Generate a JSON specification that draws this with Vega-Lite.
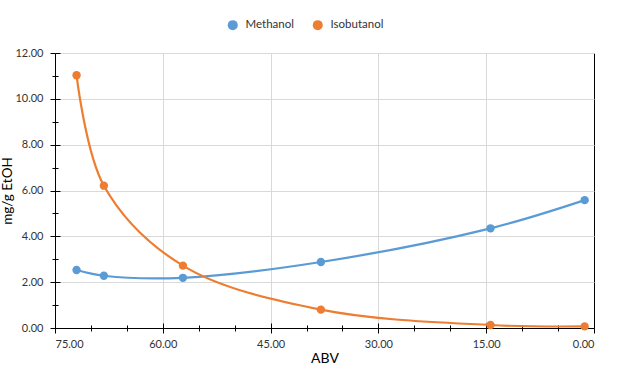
{
  "$schema": "https://vega.github.io/schema/vega-lite/v6.json",
  "width": 539,
  "height": 275,
  "autosize": "none",
  "padding": {"left": 55, "top": 53, "right": 24, "bottom": 44},
  "background": "white",
  "config": {
    "view": {"stroke": null},
    "font": "Lato",
    "axis": {"labelFont": "Lato", "titleFont": "Lato", "labelColor": "#333333", "titleColor": "#000000", "domainColor": "#000000", "tickColor": "#000000", "gridColor": "#d9d9d9"}
  },
  "data": {
    "values": [
      {"abv": 72.0, "series": "Methanol", "value": 2.53},
      {"abv": 68.2, "series": "Methanol", "value": 2.28},
      {"abv": 57.2, "series": "Methanol", "value": 2.19},
      {"abv": 38.0, "series": "Methanol", "value": 2.88},
      {"abv": 14.4, "series": "Methanol", "value": 4.35},
      {"abv": 1.3, "series": "Methanol", "value": 5.58},
      {"abv": 72.0, "series": "Isobutanol", "value": 11.03},
      {"abv": 68.2, "series": "Isobutanol", "value": 6.21},
      {"abv": 57.2, "series": "Isobutanol", "value": 2.72},
      {"abv": 38.0, "series": "Isobutanol", "value": 0.80},
      {"abv": 14.4, "series": "Isobutanol", "value": 0.13},
      {"abv": 1.3, "series": "Isobutanol", "value": 0.07}
    ]
  },
  "layer": [
    {
      "mark": {"type": "line", "interpolate": "catmull-rom", "strokeWidth": 2.2},
      "encoding": {
        "x": {
          "field": "abv", "type": "quantitative",
          "scale": {"domain": [0, 75], "reverse": true, "nice": false},
          "axis": {
            "orient": "bottom",
            "values": [0,5,10,15,20,25,30,35,40,45,50,55,60,65,70,75],
            "labelExpr": "datum.value % 15 === 0 ? format(datum.value, '.2f') : ''",
            "labelFontSize": 11,
            "labelPadding": 5,
            "tickSize": {"condition": {"test": "datum.value % 15 === 0", "value": 5}, "value": 3},
            "gridOpacity": {"condition": {"test": "datum.value % 15 === 0", "value": 1}, "value": 0},
            "gridColor": {"condition": {"test": "datum.value === 0", "value": "#000000"}, "value": "#d9d9d9"},
            "grid": true,
            "title": "ABV",
            "titleFontSize": 14,
            "titleFontWeight": "normal",
            "titlePadding": 2
          }
        },
        "y": {
          "field": "value", "type": "quantitative",
          "scale": {"domain": [0, 12], "nice": false},
          "axis": {
            "orient": "left",
            "values": [0,1,2,3,4,5,6,7,8,9,10,11,12],
            "labelExpr": "datum.value % 2 === 0 ? format(datum.value, '.2f') : ''",
            "labelFontSize": 11,
            "labelPadding": 7,
            "tickSize": {"condition": {"test": "datum.value % 2 === 0", "value": 5}, "value": 3},
            "gridOpacity": {"condition": {"test": "datum.value % 2 === 0", "value": 1}, "value": 0},
            "grid": true,
            "title": "mg/g EtOH",
            "titleFontSize": 13.5,
            "titleFontWeight": "normal",
            "titleX": -41
          }
        },
        "color": {
          "field": "series", "type": "nominal",
          "scale": {"domain": ["Methanol", "Isobutanol"], "range": ["#5B9BD5", "#ED7D31"]},
          "legend": {
            "orient": "none", "legendX": 172, "legendY": -34,
            "direction": "horizontal", "title": null,
            "symbolType": "circle", "symbolSize": 100, "symbolStrokeWidth": 0,
            "labelFontSize": 11.5, "labelFont": "Lato", "labelColor": "#333333",
            "columnPadding": 18, "labelOffset": 7
          }
        },
        "detail": {"field": "series"}
      }
    },
    {
      "mark": {"type": "point", "filled": true, "size": 70, "opacity": 1},
      "encoding": {
        "x": {
          "field": "abv", "type": "quantitative",
          "scale": {"domain": [0, 75], "reverse": true, "nice": false},
          "axis": {
            "orient": "bottom",
            "values": [0,5,10,15,20,25,30,35,40,45,50,55,60,65,70,75],
            "labels": false, "domain": false, "grid": false, "title": null,
            "tickSize": {"condition": {"test": "datum.value % 15 === 0", "value": -5}, "value": -3}
          }
        },
        "y": {
          "field": "value", "type": "quantitative",
          "scale": {"domain": [0, 12], "nice": false},
          "axis": {
            "orient": "left",
            "values": [0,1,2,3,4,5,6,7,8,9,10,11,12],
            "labels": false, "domain": false, "grid": false, "title": null,
            "tickSize": {"condition": {"test": "datum.value % 2 === 0", "value": -5}, "value": -3}
          }
        },
        "color": {"field": "series", "type": "nominal", "scale": {"domain": ["Methanol", "Isobutanol"], "range": ["#5B9BD5", "#ED7D31"]}}
      }
    }
  ],
  "resolve": {"axis": {"x": "independent", "y": "independent"}}
}
